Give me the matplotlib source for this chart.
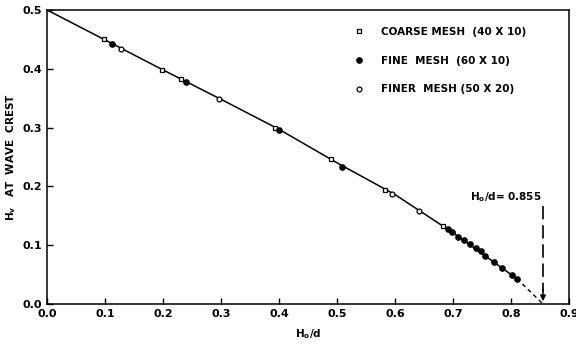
import matplotlib.pyplot as plt
from matplotlib.lines import Line2D

# data
coarse_x = [0.098, 0.198, 0.231, 0.393, 0.490, 0.583, 0.683]
coarse_y = [0.450, 0.398, 0.383, 0.299, 0.247, 0.194, 0.133]
fine_x = [0.112, 0.240, 0.400, 0.509, 0.691, 0.698, 0.709, 0.719, 0.729, 0.740,
          0.748, 0.755, 0.771, 0.784, 0.802, 0.810]
fine_y = [0.442, 0.378, 0.296, 0.233, 0.128, 0.122, 0.114, 0.109, 0.102, 0.095,
          0.090, 0.082, 0.071, 0.061, 0.049, 0.043]
finer_x = [0.127, 0.297, 0.595, 0.641]
finer_y = [0.434, 0.349, 0.187, 0.158]
curve_x = [0.0, 0.1, 0.2, 0.3, 0.4, 0.5, 0.6, 0.7, 0.81]
curve_y = [0.5, 0.449, 0.398, 0.348, 0.297, 0.240, 0.186, 0.121, 0.043]
ext_x = [0.81, 0.855]
ext_y = [0.043, 0.0]
limit = 0.855

fig = plt.figure(figsize=(5.76, 3.47), dpi=100)
ax = fig.add_axes([0.082, 0.124, 0.906, 0.847])

ax.plot(curve_x, curve_y, 'k-', lw=1.1)
ax.plot(ext_x, ext_y, 'k--', lw=1.0, dashes=(3, 2.5))
ax.plot(coarse_x, coarse_y, 's', ms=3.5, mfc='white', mec='k', mew=0.9)
ax.plot(fine_x, fine_y, 'o', ms=3.8, mfc='k', mec='k')
ax.plot(finer_x, finer_y, 'o', ms=3.5, mfc='white', mec='k', mew=0.9)

# vertical dashed marker with arrow
ax.plot([limit, limit], [0.167, 0.02], 'k--', lw=1.2, dashes=(8, 3.5))
ax.annotate('', xy=(limit, 0.0), xytext=(limit, 0.03),
            arrowprops=dict(arrowstyle='-|>', color='k', lw=1.1, mutation_scale=8))
ax.text(0.853, 0.182, r'$\mathregular{H_o}$/d= 0.855', ha='right', va='center',
        fontsize=7.5, fontweight='bold')

handles = [
    Line2D([], [], ls='', marker='s', ms=3.5, mfc='white', mec='k', mew=0.9),
    Line2D([], [], ls='', marker='o', ms=3.8, mfc='k', mec='k'),
    Line2D([], [], ls='', marker='o', ms=3.5, mfc='white', mec='k', mew=0.9),
]
labels = ['COARSE MESH  (40 X 10)', 'FINE  MESH  (60 X 10)', 'FINER  MESH (50 X 20)']
leg = ax.legend(handles, labels, loc='upper right', bbox_to_anchor=(0.935, 0.975),
                frameon=False, fontsize=7.5, labelspacing=1.8, handletextpad=1.6,
                handlelength=1.0)
for t in leg.get_texts():
    t.set_fontweight('bold')

ax.set_xlim(0, 0.9)
ax.set_ylim(0, 0.5)
ax.set_xticks([0.0, 0.1, 0.2, 0.3, 0.4, 0.5, 0.6, 0.7, 0.8, 0.9])
ax.set_yticks([0.0, 0.1, 0.2, 0.3, 0.4, 0.5])
ax.set_xticklabels(['0.0', '0.1', '0.2', '0.3', '0.4', '0.5', '0.6', '0.7', '0.8', '0.9'])
ax.set_yticklabels(['0.0', '0.1', '0.2', '0.3', '0.4', '0.5'])
ax.tick_params(direction='in', length=4, width=1, labelsize=8)
for lab in ax.get_xticklabels() + ax.get_yticklabels():
    lab.set_fontweight('bold')
for s in ax.spines.values():
    s.set_linewidth(1.1)

ax.set_xlabel(r'$\mathregular{H_o}$/d', fontsize=7.5, fontweight='bold', labelpad=6)
ax.set_ylabel(r'$\mathregular{H_v}$   AT  WAVE  CREST', fontsize=7.5, fontweight='bold', labelpad=3)

fig.savefig('out.png', dpi=100)
